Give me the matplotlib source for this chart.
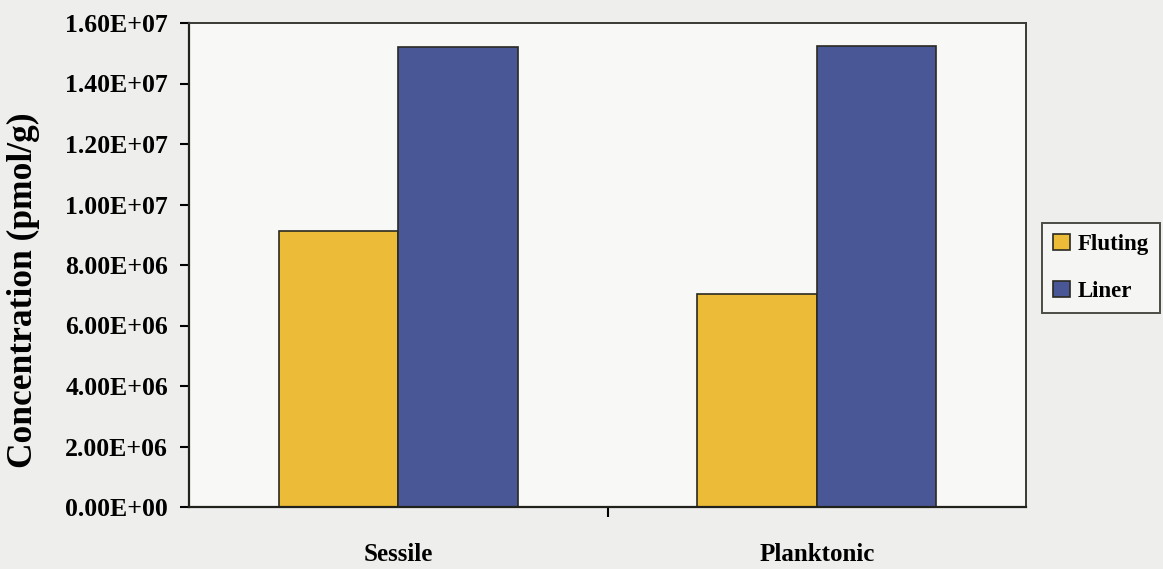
import matplotlib
matplotlib.use("Agg")
import matplotlib.pyplot as plt
import numpy as np

categories = ["Sessile", "Planktonic"]
fluting = [9.12e6, 7.04e6]
liner = [1.52e7, 1.524e7]
series_names = ["Fluting", "Liner"]
y_ticks = [0, 2e6, 4e6, 6e6, 8e6, 1e7, 1.2e7, 1.4e7, 1.6e7]
y_tick_labels = ["0.00E+00", "2.00E+06", "4.00E+06", "6.00E+06", "8.00E+06",
                 "1.00E+07", "1.20E+07", "1.40E+07", "1.60E+07"]

plt.rcParams["font.family"] = ["Liberation Serif", "DejaVu Serif"]
plt.rcParams["font.weight"] = "bold"

W, H = 1163, 569
fig = plt.figure(figsize=(W / 100, H / 100), dpi=100, facecolor="#eeeeec")
ax = fig.add_axes([189 / W, 1 - 507 / H, (1026 - 189) / W, (507 - 23) / H])
ax.set_facecolor("#f8f8f6")

x = np.arange(len(categories))
w = 0.286
ax.bar(x - w / 2, fluting, width=w, color="#ecbc38", edgecolor="#2a2a22",
       linewidth=1.2, label=series_names[0], zorder=2)
ax.bar(x + w / 2, liner, width=w, color="#4a5797", edgecolor="#2a2a22",
       linewidth=1.2, label=series_names[1], zorder=2)

ax.set_xlim(-0.5, len(categories) - 0.5)
ax.set_ylim(0, 1.6e7)
ax.set_yticks(y_ticks)
ax.set_yticklabels(y_tick_labels, fontsize=18.5, fontweight="bold")
ax.set_xticks(x)
ax.set_xticklabels(categories, fontsize=18, fontweight="bold")
ax.tick_params(axis="x", which="major", length=0, pad=26)
ax.set_xticks(np.arange(len(categories) - 1) + 0.5, minor=True)
ax.tick_params(axis="x", which="minor", length=7, width=1.5, direction="out")
ax.tick_params(axis="y", length=6.5, width=1.5, direction="out", pad=8.6)

for side in ["left", "bottom"]:
    ax.spines[side].set_linewidth(1.6)
    ax.spines[side].set_color("#22221c")
for side in ["top", "right"]:
    ax.spines[side].set_linewidth(1.4)
    ax.spines[side].set_color("#3a3a34")

# vertical axis title placed in figure pixels
fig.text(23 / W, 1 - 290 / H, "Concentration (pmol/g)", rotation=90,
         ha="center", va="center", fontsize=25.5, fontweight="bold")

leg = fig.legend(loc="center left", bbox_to_anchor=(1042 / W, 1 - 268 / H),
                 prop={"weight": "bold", "size": 16.5},
                 frameon=True, fancybox=False, handlelength=0.7, handleheight=0.7,
                 handletextpad=0.35, borderpad=0.5, labelspacing=1.1,
                 borderaxespad=0)
leg.get_frame().set_edgecolor("#22221c")
leg.get_frame().set_linewidth(1.4)
leg.get_frame().set_facecolor("#f8f8f6")

fig.savefig("out.png", dpi=100, facecolor=fig.get_facecolor())
